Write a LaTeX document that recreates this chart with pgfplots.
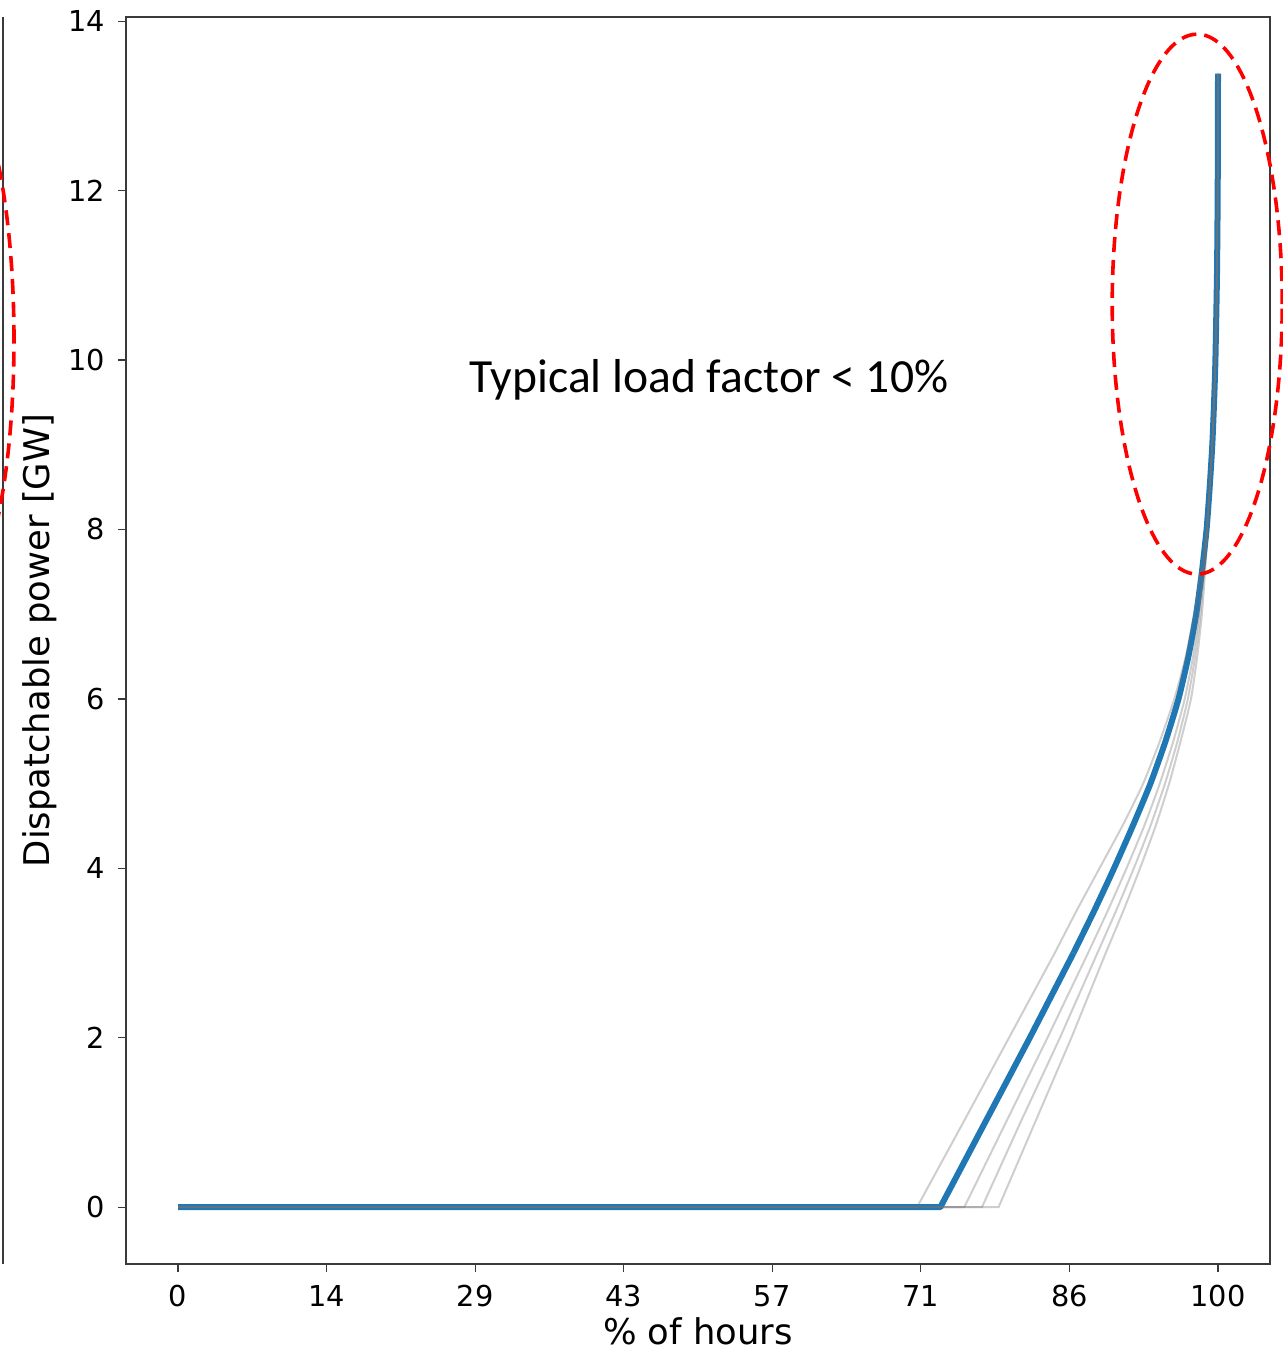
\documentclass[border=0pt]{standalone}
\usepackage{fontspec}
\setmainfont{DejaVu Sans}
\newfontfamily\calfont{Carlito}
\usepackage{pgfplots}
\pgfplotsset{compat=1.18}

\definecolor{mplblue}{HTML}{1F77B4}
\definecolor{spine}{HTML}{3A3A3A}

\pgfplotsset{
    altyear/.style={black!55, opacity=0.35, line width=1pt, line join=round},
}

\begin{document}
\begin{tikzpicture}
\begin{axis}[
    scale only axis,
    width=572pt, height=623.5pt,
    xmin=-5, xmax=105,
    ymin=-0.67, ymax=14.05,
    xtick={0,14.2857,28.5714,42.8571,57.1429,71.4286,85.7143,100},
    xticklabels={0,14,29,43,57,71,86,100},
    ytick={0,2,4,6,8,10,12,14},
    tick pos=left,
    tick align=outside,
    major tick length=4pt,
    every tick/.style={spine, line width=0.6pt},
    axis line style={spine, line width=0.7pt},
    tick label style={font=\fontsize{14.4}{17}\selectfont},
    /pgf/number format/assume math mode=true,
    xticklabel style={yshift=-3pt},
    yticklabel style={xshift=-3pt},
    xlabel={\% of hours},
    ylabel={Dispatchable power [GW]},
    every axis x label/.style={at={(axis description cs:0.5,-0.0540)}, anchor=center,
        font=\fontsize{17.7}{21}\selectfont},
    every axis y label/.style={at={(axis description cs:-0.0752,0.5)}, anchor=center,
        rotate=90, font=\fontsize{17.7}{21}\selectfont},
    clip=false,
]
% main curve: linear part, then the bend
\addplot[mplblue, line width=3pt, line join=round] coordinates {
    (0,0) (73.3,0) (77.6,1) (81.9,2) (86.1,3)
};
\addplot[mplblue, line width=3pt, smooth, tension=0.35] coordinates {
    (86.1,3) (88.1,3.5) (90.0,4) (91.8,4.5)
    (93.5,5) (94.95,5.5) (96.2,6) (97.15,6.5) (97.9,7) (98.45,7.5) (98.9,8)
    (99.2,8.5) (99.45,9) (99.62,9.5) (99.75,10) (99.9,11) (99.97,12) (100,13.38)
};
% alternative years
\addplot[altyear] coordinates {(0,0) (71.06,0) (75.5,1) (79.9,2) (84.3,3)};
\addplot[altyear, smooth, tension=0.35] coordinates {
    (84.3,3) (86.4,3.5) (88.6,4) (90.8,4.5)
    (92.8,5) (94.4,5.5) (95.8,6) (96.9,6.5) (97.7,7) (98.35,7.5) (98.9,8)
    (99.45,9) (99.75,10) (99.9,11) (99.97,12) (100,13.38)
};
\addplot[altyear] coordinates {(73.3,0) (75.6,0) (79.6,1) (83.6,2) (87.5,3)};
\addplot[altyear, smooth, tension=0.35] coordinates {
    (87.5,3) (89.4,3.5) (91.2,4) (92.9,4.5)
    (94.4,5) (95.7,5.5) (96.8,6) (97.6,6.5) (98.15,7) (98.55,7.5) (98.9,8)
    (99.45,9) (99.75,10) (99.9,11) (99.97,12) (100,13.38)
};
\addplot[altyear] coordinates {(0,0) (77.3,0) (81.0,1) (84.8,2) (88.4,3)};
\addplot[altyear, smooth, tension=0.35] coordinates {
    (88.4,3) (90.2,3.5) (91.9,4) (93.5,4.5)
    (94.9,5) (96.1,5.5) (97.1,6) (97.8,6.5) (98.3,7) (98.65,7.5) (98.95,8)
    (99.45,9) (99.75,10) (99.9,11) (99.97,12) (100,13.38)
};
\addplot[altyear] coordinates {(0,0) (78.9,0) (82.4,1) (85.9,2) (89.2,3)};
\addplot[altyear, smooth, tension=0.35] coordinates {
    (89.2,3) (90.9,3.5) (92.5,4) (94.0,4.5)
    (95.3,5) (96.4,5.5) (97.4,6) (98.0,6.5) (98.45,7) (98.75,7.5) (99.0,8)
    (99.45,9) (99.75,10) (99.9,11) (99.97,12) (100,13.38)
};
\node[font=\calfont\fontsize{23.8}{28}\selectfont] at (axis cs:51.06,9.77) {Typical load factor < 10\%};
\draw[red, line width=1.8pt, dash pattern=on 7.5pt off 4pt] (axis cs:98.0,10.66) ellipse [x radius=42.5pt, y radius=135pt];
\end{axis}
% edge of the neighbouring panel
\draw[spine, line width=0.7pt] (-61.5pt,0) -- (-61.5pt,623.5pt);
\draw[red, line width=1.8pt, dash pattern=on 7.5pt off 4pt] (-88.5pt,462pt) ellipse [x radius=32.5pt, y radius=135pt];
\pgfresetboundingbox
\path[use as bounding box] (-63pt,-44.5pt) rectangle (578pt,632pt);
\end{tikzpicture}
\end{document}
